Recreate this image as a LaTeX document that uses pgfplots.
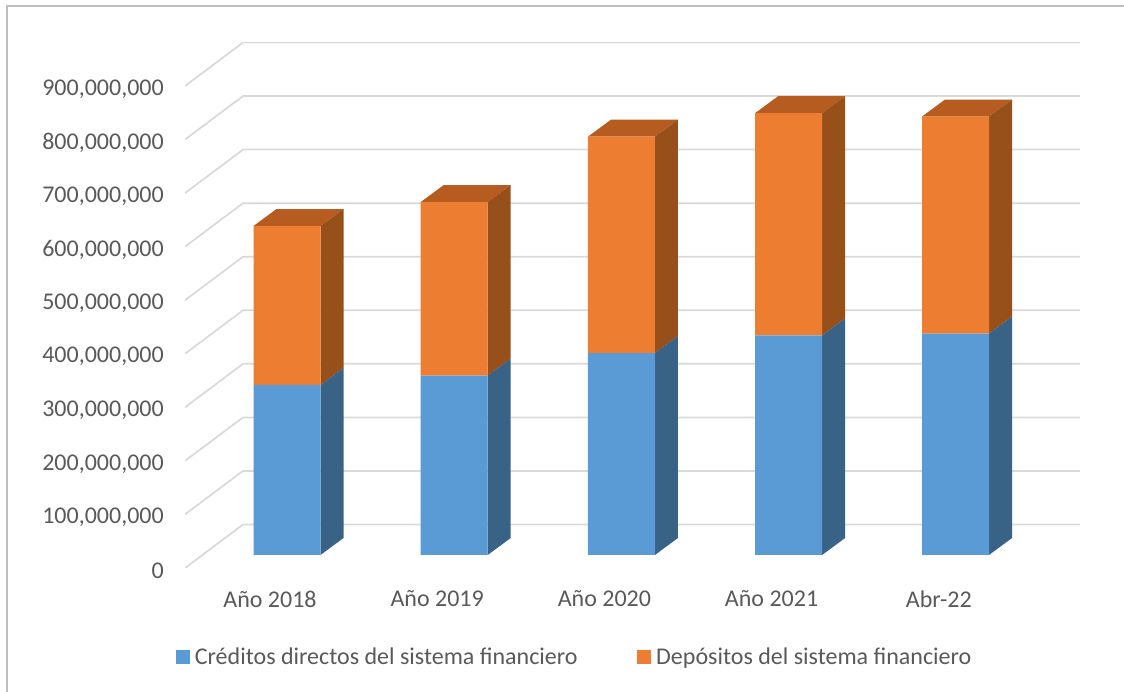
\documentclass[border=0pt]{standalone}
\usepackage{fontspec}
\setmainfont{Carlito}
\usepackage{pgfplots}
\usepackage{pgfplotstable}
\pgfplotsset{compat=1.18}

\definecolor{txt}{HTML}{595959}
\definecolor{gridc}{HTML}{D9D9D9}
\definecolor{framec}{HTML}{BFBFBF}
\definecolor{cblue}{HTML}{5B9BD5}
\definecolor{cblueside}{HTML}{386286}
\definecolor{corange}{HTML}{ED7D31}
\definecolor{corangeside}{HTML}{98501B}
\definecolor{corangetop}{HTML}{B65C21}

% x in picture pixels, y in the chart's own units
\pgfplotstableread{
x     creditos   depositos
287.0 317400000  296900000
454.2 335000000  324000000
621.4 377000000  404000000
788.6 410000000  415000000
955.5 413500000  405200000
}\datos

\pgfplotsset{
  box/.style={
    scale only axis, width=671.25pt, height=394.125pt,
    at={(138.75pt,93pt)}, anchor=south west,
    xmin=185, xmax=1080,
  },
  side/.style={sharp plot, stack plots=false, forget plot, draw=none, fill=#1},
  wall/.style={sharp plot, gridc, line width=1.3pt, forget plot},
}

\begin{document}
\begin{tikzpicture}
\path[use as bounding box] (0,0) rectangle (843pt,519pt);
\draw[framec, line width=1.5pt] (5.25pt,0) -- (5.25pt,514.5pt) -- (843pt,514.5pt);

% walls, floor and tick labels
\begin{axis}[box,
  ymin=0, ymax=981200000,
  axis line style={draw=none},
  major tick length=0pt,
  xtick={270,437.2,604.4,771.6,938.8},
  xticklabels={Año 2018,Año 2019,Año 2020,Año 2021,Abr-22},
  ytick={0,100000000,...,900000000},
  scaled y ticks=false,
  /pgf/number format/.cd, fixed, precision=0, 1000 sep={,}, assume math mode=true,
  /pgfplots/.cd,
  tick label style={font=\fontsize{18pt}{20pt}\selectfont, text=txt, inner sep=0pt},
  yticklabel style={xshift=-15.75pt, yshift=-2.2pt},
  xticklabel style={yshift=-16.8pt},
]
\addplot[wall] coordinates {(185,0)(243,81200000)(1080,81200000)};
\addplot[wall] coordinates {(185,100000000)(243,181200000)(1080,181200000)};
\addplot[wall] coordinates {(185,200000000)(243,281200000)(1080,281200000)};
\addplot[wall] coordinates {(185,300000000)(243,381200000)(1080,381200000)};
\addplot[wall] coordinates {(185,400000000)(243,481200000)(1080,481200000)};
\addplot[wall] coordinates {(185,500000000)(243,581200000)(1080,581200000)};
\addplot[wall] coordinates {(185,600000000)(243,681200000)(1080,681200000)};
\addplot[wall] coordinates {(185,700000000)(243,781200000)(1080,781200000)};
\addplot[wall] coordinates {(185,800000000)(243,881200000)(1080,881200000)};
\addplot[wall] coordinates {(185,900000000)(243,981200000)(1080,981200000)};
\end{axis}

% bars: the baseline sits 13 px above the front corner
\begin{axis}[box,
  ymin=-24300000, ymax=956900000,
  hide axis,
  ybar stacked,
  bar width=67,
  legend columns=2,
  legend style={at={(0.4355,-0.1694)}, anchor=center, draw=none, fill=none,
    font=\fontsize{18pt}{20pt}\selectfont, text=txt, inner sep=0pt,
    /tikz/every odd column/.style={column sep=2pt},
    /tikz/every even column/.style={column sep=42.5pt}},
  legend image code/.code={\fill[#1] (0pt,-5.2pt) rectangle (10.5pt,5.2pt);},
]
\addplot[fill=cblue, draw=none] table[x=x, y=creditos] {\datos};
\addplot[fill=corange, draw=none] table[x=x, y=depositos] {\datos};
\addlegendentry{Créditos directos del sistema financiero}
\addlegendentry{Depósitos del sistema financiero}

% blue side faces
\addplot[side=cblueside] coordinates {(320.5,0)(343.5,31700000)(343.5,349100000)(320.5,317400000)} -- cycle;
\addplot[side=cblueside] coordinates {(487.7,0)(510.7,31700000)(510.7,366700000)(487.7,335000000)} -- cycle;
\addplot[side=cblueside] coordinates {(654.9,0)(677.9,31700000)(677.9,408700000)(654.9,377000000)} -- cycle;
\addplot[side=cblueside] coordinates {(822.1,0)(845.1,31700000)(845.1,441700000)(822.1,410000000)} -- cycle;
\addplot[side=cblueside] coordinates {(989,0)(1012,31700000)(1012,445200000)(989,413500000)} -- cycle;

% orange side faces
\addplot[side=corangeside] coordinates {(320.5,317400000)(343.5,349100000)(343.5,646000000)(320.5,614300000)} -- cycle;
\addplot[side=corangeside] coordinates {(487.7,335000000)(510.7,366700000)(510.7,690700000)(487.7,659000000)} -- cycle;
\addplot[side=corangeside] coordinates {(654.9,377000000)(677.9,408700000)(677.9,812700000)(654.9,781000000)} -- cycle;
\addplot[side=corangeside] coordinates {(822.1,410000000)(845.1,441700000)(845.1,856700000)(822.1,825000000)} -- cycle;
\addplot[side=corangeside] coordinates {(989,413500000)(1012,445200000)(1012,850400000)(989,818700000)} -- cycle;

% top faces
\addplot[side=corangetop] coordinates {(253.5,614300000)(320.5,614300000)(343.5,646000000)(276.5,646000000)} -- cycle;
\addplot[side=corangetop] coordinates {(420.7,659000000)(487.7,659000000)(510.7,690700000)(443.7,690700000)} -- cycle;
\addplot[side=corangetop] coordinates {(587.9,781000000)(654.9,781000000)(677.9,812700000)(610.9,812700000)} -- cycle;
\addplot[side=corangetop] coordinates {(755.1,825000000)(822.1,825000000)(845.1,856700000)(778.1,856700000)} -- cycle;
\addplot[side=corangetop] coordinates {(922,818700000)(989,818700000)(1012,850400000)(945,850400000)} -- cycle;
\end{axis}
\end{tikzpicture}
\end{document}
